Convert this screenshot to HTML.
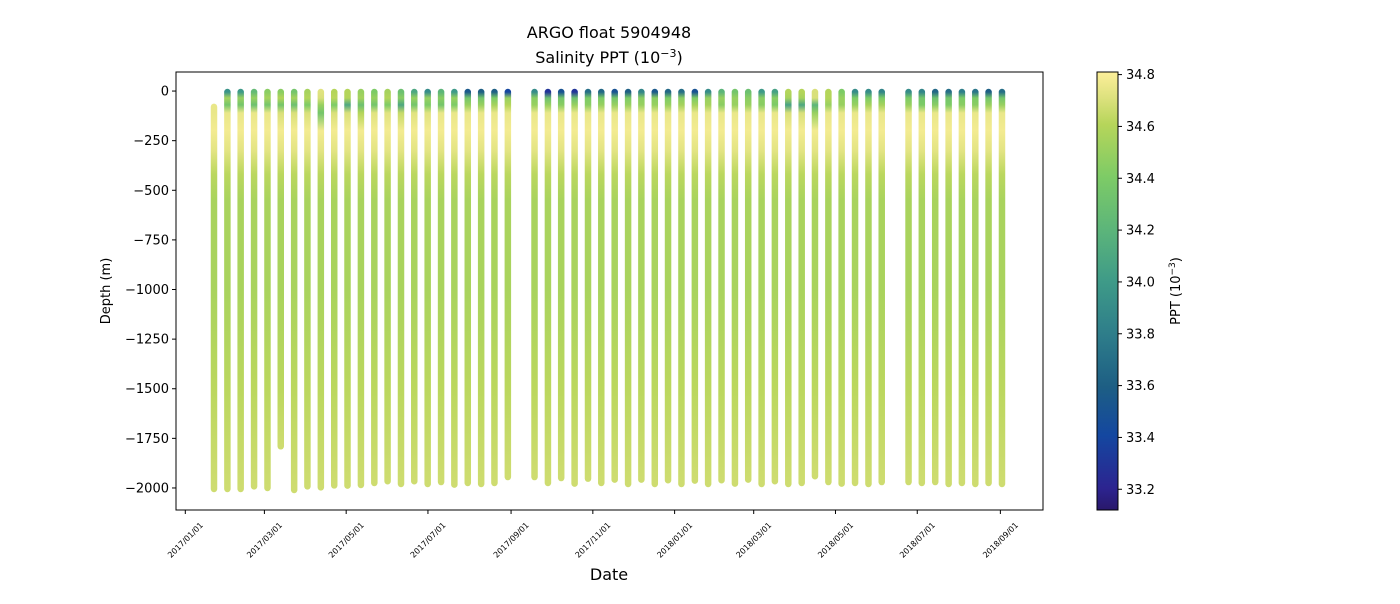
<!DOCTYPE html>
<html><head><meta charset="utf-8"><style>
body{margin:0;background:#fff;font-family:"DejaVu Sans","Liberation Sans",sans-serif;}
svg text{font-family:"DejaVu Sans","Liberation Sans",sans-serif;fill:#000;}
</style></head><body>
<svg id="chart" width="1400" height="600" xmlns="http://www.w3.org/2000/svg">
<text x="609" y="38" text-anchor="middle" font-size="16">ARGO float 5904948</text>
<text x="609" y="63" text-anchor="middle" font-size="16">Salinity PPT (10<tspan dy="-6" font-size="11">−3</tspan><tspan dy="6">)</tspan></text>
<text x="609" y="580" text-anchor="middle" font-size="16">Date</text>
<text transform="translate(110,291) rotate(-90)" text-anchor="middle" font-size="13">Depth (m)</text>
<text transform="translate(1180,291) rotate(-90)" text-anchor="middle" font-size="13">PPT (10<tspan dy="-5" font-size="9">−3</tspan><tspan dy="5">)</tspan></text>
<defs id="defs"></defs>
<g id="profiles"></g>
<g id="axes"></g>
</svg>
<script>
const profileDays=[21.4,31.4,41.3,51.3,61.3,71.2,81.2,91.1,101.1,111.1,121.0,131.0,141.0,150.9,160.9,170.8,180.8,190.8,200.7,210.7,220.7,230.6,240.6,
260.5,270.5,280.4,290.4,300.4,310.3,320.3,330.3,340.2,350.2,360.1,370.1,380.1,390.0,400.0,410.0,419.9,429.9,439.8,449.8,459.8,469.7,479.7,489.6,499.6,509.6,519.5,
539.5,549.4,559.4,569.4,579.3,589.3,599.2,609.2];
const topDepth=[-80,-5,-5,-5,-5,-5,-5,-5,-5,-5,-5,-5,-5,-5,-5,-5,-5,-5,-5,-5,-5,-5,-5,
-5,-5,-5,-5,-5,-5,-5,-5,-5,-5,-5,-5,-5,-5,-5,-5,-5,-5,-5,-5,-5,-5,-5,-5,-5,-5,-5,-5,
-5,-5,-5,-5,-5,-5,-5,-5];
const maxDepth=[-2005,-2005,-2005,-1992,-2000,-1790,-2010,-1992,-1997,-1987,-1988,-1985,-1975,-1966,-1980,-1966,-1980,-1970,-1983,-1975,-1980,-1975,-1945,
-1945,-1975,-1950,-1978,-1953,-1975,-1958,-1980,-1958,-1980,-1961,-1980,-1963,-1980,-1961,-1978,-1958,-1980,-1966,-1980,-1975,-1941,-1970,-1978,-1975,-1980,-1970,
-1970,-1975,-1970,-1980,-1975,-1980,-1975,-1980];
const salSurface=[34.75,33.95,34.0,34.25,34.45,34.45,34.35,34.55,34.72,34.6,34.6,34.5,34.4,34.55,34.3,34.1,33.9,34.2,34.0,33.55,33.6,33.6,33.4,
33.9,33.3,33.5,33.3,33.7,33.65,33.5,33.6,33.85,33.55,33.65,33.7,33.5,33.9,34.2,34.35,34.3,34.0,34.05,34.6,34.6,34.7,34.6,34.4,33.9,33.9,33.85,
33.9,33.85,33.65,33.7,33.8,33.75,33.6,33.7];
const sal40=[34.75,34.55,34.5,34.5,34.55,34.6,34.55,34.6,34.7,34.62,34.6,34.55,34.5,34.6,34.45,34.5,34.5,34.45,34.5,34.35,34.35,34.4,34.5,
34.45,34.3,34.35,34.3,34.4,34.4,34.35,34.4,34.45,34.45,34.4,34.45,34.4,34.5,34.5,34.5,34.45,34.45,34.45,34.55,34.55,34.7,34.6,34.5,34.4,34.4,34.4,
34.4,34.35,34.3,34.35,34.4,34.4,34.35,34.35];
const sal80=[34.75,34.35,34.35,34.3,34.35,34.35,34.3,34.4,34.5,34.4,34.1,34.3,34.35,34.4,34.1,34.35,34.4,34.35,34.4,34.5,34.5,34.55,34.6,
34.5,34.5,34.45,34.5,34.45,34.5,34.5,34.5,34.5,34.5,34.5,34.55,34.55,34.55,34.45,34.5,34.5,34.45,34.4,34.05,34.1,34.2,34.5,34.5,34.5,34.55,34.55,
34.5,34.4,34.45,34.4,34.45,34.45,34.5,34.5];
const sal130=[34.75,34.75,34.75,34.75,34.75,34.7,34.7,34.7,34.35,34.7,34.7,34.6,34.72,34.72,34.65,34.72,34.72,34.75,34.75,34.75,34.75,34.75,34.75,
34.75,34.75,34.75,34.75,34.75,34.75,34.75,34.75,34.75,34.75,34.75,34.75,34.75,34.75,34.75,34.75,34.75,34.75,34.75,34.7,34.7,34.5,34.75,34.75,34.75,34.75,34.75,
34.75,34.75,34.75,34.75,34.75,34.75,34.75,34.75];
const deepDepths=[-200,-300,-420,-550,-1000,-1500,-2000];
const deepSal=[34.78,34.73,34.62,34.56,34.56,34.62,34.67];
const yTicks=[0,-250,-500,-750,-1000,-1250,-1500,-1750,-2000];
const xTickDays=[0,59,120,181,243,304,365,424,485,546,608];
const xTickLabels=["2017/01/01","2017/03/01","2017/05/01","2017/07/01","2017/09/01","2017/11/01","2018/01/01","2018/03/01","2018/05/01","2018/07/01","2018/09/01"];
const cbTicks=[33.2,33.4,33.6,33.8,34.0,34.2,34.4,34.6,34.8];

const NS="http://www.w3.org/2000/svg";
const PL=176,PR=1043,PT=72,PB=510;
const X0=-6.94,X1=639.8,Y0=96,Y1=-2111;
function xScale(d){return PL+(d-X0)/(X1-X0)*(PR-PL);}
function yScale(v){return PT+(Y0-v)/(Y0-Y1)*(PB-PT);}
const CB0=33.12,CB1=34.81,CBT=72,CBB=510,CBL=1097,CBR=1118;
function cbScale(v){return CBB-(v-CB0)/(CB1-CB0)*(CBB-CBT);}
const cmap=[[0,[41,24,107]],[0.05,[44,36,144]],[0.17,[20,71,160]],[0.28,[29,94,132]],[0.40,[46,125,138]],[0.52,[62,154,136]],[0.64,[92,181,122]],[0.76,[125,203,102]],[0.88,[182,213,90]],[0.94,[220,225,125]],[1,[253,239,154]]];
function color(v){let t=(v-CB0)/(CB1-CB0);t=Math.max(0,Math.min(1,t));
 for(let i=1;i<cmap.length;i++){if(t<=cmap[i][0]){const a=cmap[i-1],b=cmap[i];const f=(t-a[0])/(b[0]-a[0]);
 const c=a[1].map((x,j)=>Math.round(x+(b[1][j]-x)*f));return `rgb(${c[0]},${c[1]},${c[2]})`;}}
 return "rgb(253,239,154)";}
function mk(tag,attrs,parent){const e=document.createElementNS(NS,tag);for(const k in attrs)e.setAttribute(k,attrs[k]);parent.appendChild(e);return e;}
const defs=document.getElementById('defs'),prof=document.getElementById('profiles'),axes=document.getElementById('axes');

profileDays.forEach((d,i)=>{
 const top=topDepth[i],bot=maxDepth[i];
 const pts=[[-5,salSurface[i]],[-35,sal40[i]],[-70,sal80[i]],[-110,sal130[i]]];
 deepDepths.forEach((dd,j)=>pts.push([dd,deepSal[j]]));
 const y1=yScale(top),y2=yScale(bot);
 const g=mk('linearGradient',{id:'g'+i,gradientUnits:'userSpaceOnUse',x1:0,y1:y1,x2:0,y2:y2},defs);
 pts.forEach(p=>{let off=(yScale(p[0])-y1)/(y2-y1);off=Math.max(0,Math.min(1,off));
   mk('stop',{offset:off,'stop-color':color(p[1])},g);});
 const x=xScale(d);
 const ln=mk('line',{x1:x,x2:x,y1:y1,y2:y2,stroke:`url(#g${i})`,'stroke-width':6.5,'stroke-linecap':'round'},prof);
 
 
});

const frame=mk('rect',{x:PL,y:PT,width:PR-PL,height:PB-PT,fill:'none',stroke:'#000','stroke-width':1},axes);


yTicks.forEach(v=>{const y=yScale(v);
 mk('line',{x1:PL-4,x2:PL,y1:y,y2:y,stroke:'#000'},axes);
 const t=mk('text',{x:PL-7,y:y+4.5,'text-anchor':'end','font-size':13},axes);t.textContent=String(v).replace('-','−');
 
 
});
xTickDays.forEach((d,i)=>{const x=xScale(d);
 mk('line',{x1:x,x2:x,y1:PB,y2:PB+4,stroke:'#000'},axes);
 const t=mk('text',{transform:`translate(${x+2},${PB+32}) rotate(-45)`,'text-anchor':'middle','font-size':8},axes);t.textContent=xTickLabels[i];
 
 
});
const cg=mk('linearGradient',{id:'cbg',x1:0,y1:1,x2:0,y2:0},defs);
cmap.forEach(s=>mk('stop',{offset:s[0],'stop-color':`rgb(${s[1].join(',')})`},cg));
const cb=mk('rect',{x:CBL,y:CBT,width:CBR-CBL,height:CBB-CBT,fill:'url(#cbg)',stroke:'#000','stroke-width':1},axes);


cbTicks.forEach(v=>{const y=cbScale(v);
 mk('line',{x1:CBR,x2:CBR+4,y1:y,y2:y,stroke:'#000'},axes);
 const t=mk('text',{x:CBR+8,y:y+4.5,'font-size':13},axes);t.textContent=v.toFixed(1);
 
 
});
</script>
</body></html>
